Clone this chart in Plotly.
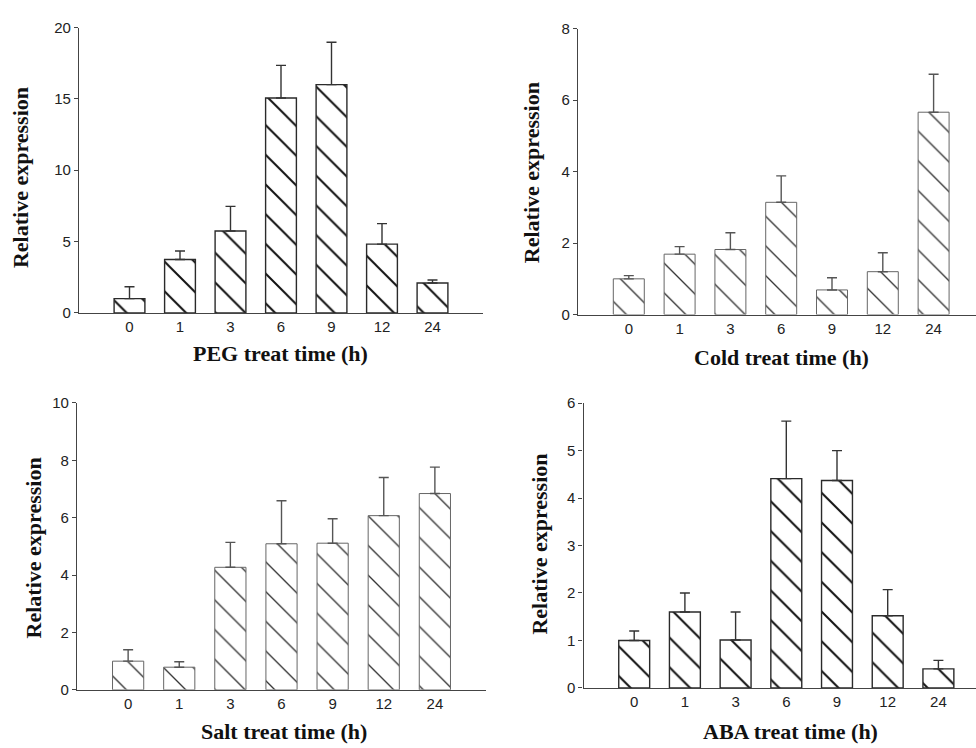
import plotly.graph_objects as go

times = ["0", "1", "3", "6", "9", "12", "24"]

peg_mean = [1.0, 3.75, 5.74, 15.06, 16.0, 4.82, 2.10]
peg_upper = [1.83, 4.34, 7.47, 17.35, 18.97, 6.26, 2.31]

cold_mean = [1.0, 1.69, 1.82, 3.14, 0.69, 1.20, 5.66]
cold_upper = [1.09, 1.90, 2.29, 3.88, 1.03, 1.73, 6.72]

salt_mean = [1.0, 0.79, 4.27, 5.09, 5.11, 6.07, 6.84]
salt_upper = [1.40, 0.98, 5.14, 6.59, 5.96, 7.40, 7.76]

aba_mean = [1.0, 1.60, 1.01, 4.41, 4.37, 1.52, 0.40]
aba_upper = [1.20, 2.00, 1.60, 5.62, 5.00, 2.07, 0.58]

W, H = 976, 748

panels = [
    dict(mean=peg_mean, upper=peg_upper, xpx=(79, 483), ypx=(19, 311), yr=(0, 20), dt=5,
         xr=(-1, 7), dark=True, xt="PEG treat time (h)", yt=(20, 173), xtp=(280, 352)),
    dict(mean=cold_mean, upper=cold_upper, xpx=(578, 976), ypx=(20, 312.7), yr=(0, 8), dt=2,
         xr=(-1, -1 + (976 - 578) / 50.8), dark=False, xt="Cold treat time (h)", yt=(531, 168), xtp=(781, 357)),
    dict(mean=salt_mean, upper=salt_upper, xpx=(77, 486), ypx=(403, 696.7), yr=(0, 10), dt=2,
         xr=(-1, 7), dark=False, xt="Salt treat time (h)", yt=(33, 552), xtp=(284, 739)),
    dict(mean=aba_mean, upper=aba_upper, xpx=(583.5, 976), ypx=(403.3, 694.7), yr=(0, 6), dt=1,
         xr=(-1, -1 + (976 - 583.5) / 50.7), dark=True, xt="ABA treat time (h)", yt=(540, 548), xtp=(790, 739)),
]

fig = go.Figure()
annotations = []
layout = {}
for i, p in enumerate(panels):
    n = "" if i == 0 else str(i + 1)
    xa, ya = "x" + n, "y" + n
    err_plus = [u - m for u, m in zip(p["upper"], p["mean"])]
    line_col = "#2a2a2a" if p["dark"] else "#666666"
    line_w = 1.4 if p["dark"] else 1.0
    hatch_col = "#111111" if p["dark"] else "#333333"
    fig.add_trace(go.Bar(
        x=times, y=p["mean"], xaxis=xa, yaxis=ya, width=0.61,
        marker=dict(color="white", line=dict(color=line_col, width=line_w),
                    pattern=dict(shape="\\", fgcolor=hatch_col, bgcolor="white", fgopacity=1,
                                 size=21, solidity=0.095 if p["dark"] else 0.065)),
        error_y=dict(type="data", symmetric=False, array=err_plus,
                     arrayminus=[0] * len(err_plus), color="#333333" if p["dark"] else "#555555",
                     thickness=1.4, width=5),
        showlegend=False,
    ))
    layout["xaxis" + n] = dict(
        domain=[p["xpx"][0] / W, min(p["xpx"][1] / W, 1.0)], anchor=ya, type="category",
        range=list(p["xr"]), showline=True, linecolor="#444444", linewidth=1.2,
        ticks="", showgrid=False, zeroline=False,
        tickfont=dict(family="Liberation Sans, Arial", size=15, color="#222222"),
    )
    layout["yaxis" + n] = dict(
        domain=[1 - p["ypx"][1] / H, 1 - p["ypx"][0] / H], anchor=xa,
        range=list(p["yr"]), dtick=p["dt"], tick0=0, showline=True, linecolor="#444444", linewidth=1.2,
        ticks="outside", ticklen=4, tickcolor="#444444", showgrid=False, zeroline=False,
        tickfont=dict(family="Liberation Sans, Arial", size=15, color="#222222"),
    )
    annotations.append(dict(
        text="<b>Relative expression</b>", textangle=-90, xref="paper", yref="paper",
        x=p["yt"][0] / W, y=1 - p["yt"][1] / H, xanchor="center", yanchor="middle", showarrow=False,
        font=dict(family="Liberation Serif, Times New Roman", size=22, color="#111111"),
    ))
    annotations.append(dict(
        text="<b>" + p["xt"] + "</b>", xref="paper", yref="paper",
        x=p["xtp"][0] / W, y=1 - p["xtp"][1] / H, xanchor="center", yanchor="middle", showarrow=False,
        font=dict(family="Liberation Serif, Times New Roman", size=22, color="#111111"),
    ))

fig.update_layout(
    width=W, height=H, margin=dict(l=0, r=0, t=0, b=0),
    paper_bgcolor="white", plot_bgcolor="white",
    annotations=annotations, bargap=0.39, **layout,
)
fig.write_html("out.html")
